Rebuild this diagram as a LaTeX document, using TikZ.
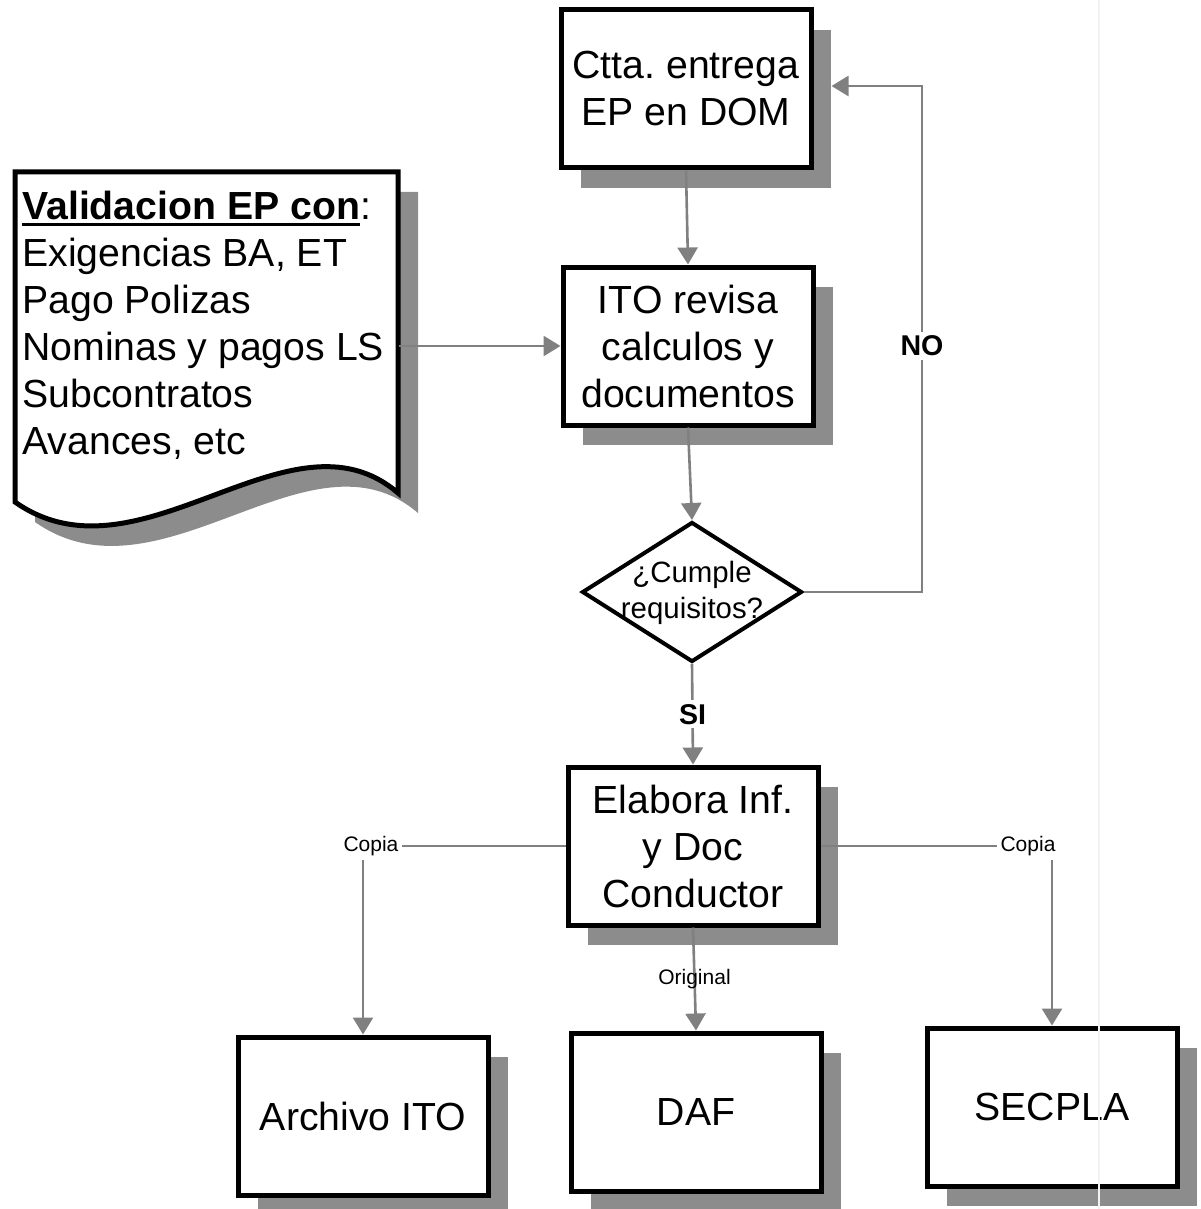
\documentclass[tikz,border=0pt]{standalone}
\usepackage{fontspec}
\setmainfont{Liberation Sans}
\usetikzlibrary{shapes.geometric,arrows.meta,shadows}
\frenchspacing

\definecolor{linegray}{RGB}{128,128,128}
\definecolor{shadegray}{RGB}{140,140,140}
\definecolor{seamgray}{RGB}{242,242,242}

% heavy underline for the heading of the document shape
\newsavebox\heavyulbox
\newcommand{\heavyul}[1]{\sbox\heavyulbox{#1}%
  \rlap{\rule[-3pt]{\wd\heavyulbox}{1.5pt}}\usebox\heavyulbox}

\begin{document}
\begin{tikzpicture}[x=0.5pt,y=-0.5pt,
  boxfont/.style={font=\fontsize{19.6pt}{23.5pt}\selectfont},
  procbox/.style={boxfont, draw=black, line width=2.5pt, fill=white,
    minimum width=125pt, minimum height=79pt, inner sep=0pt, align=center,
    general shadow={fill=shadegray, shadow xshift=10pt, shadow yshift=-10pt}},
  decision/.style={diamond, draw=black, line width=2pt, fill=white,
    minimum width=110pt, minimum height=70pt, inner sep=0pt},
  flow/.style={draw=linegray, line width=1.3pt,
    -{Triangle[length=8.5pt,width=10pt]}},
  answer/.style={font=\fontsize{14.3pt}{17pt}\selectfont\bfseries,
    fill=white, inner sep=2pt},
  copylbl/.style={font=\fontsize{10.5pt}{12pt}\selectfont,
    fill=white, inner sep=2pt},
  origlbl/.style={font=\fontsize{10.5pt}{12pt}\selectfont, inner sep=1pt}
]
\useasboundingbox (0,0) rectangle (1200,1209);

% process boxes
\node[procbox] (ctta)    at (686,89)   {Ctta. entrega\\EP en DOM};
\node[procbox] (ito)     at (688,346)  {ITO revisa\\calculos y\\documentos};
\node[procbox] (elab)    at (693,846)  {Elabora Inf.\\y Doc\\Conductor};
\node[procbox] (archivo) at (363,1116) {Archivo ITO};
\node[procbox] (daf)     at (696,1112) {DAF};
\node[procbox] (secpla)  at (1052,1107){SECPLA};

% decision
\node[decision] (dia) at (692,592) {};
\node[font=\fontsize{14.7pt}{18pt}\selectfont, align=center, inner sep=0pt]
  (diatext) at (692,593) {¿Cumple\\requisitos?};

% document with wavy bottom edge
\node[minimum width=191.5pt, minimum height=160.5pt, anchor=north west,
  inner sep=0pt] (doc) at (15,172) {};
\fill[shadegray, shift={(20,20)}]
  (15,172) -- (398,172) -- (398,493)
  .. controls (290,400) and (140,590) .. (15,502) -- cycle;
\draw[line width=2.5pt, fill=white, line join=miter]
  (15,172) -- (398,172) -- (398,493)
  .. controls (290,400) and (140,590) .. (15,502) -- cycle;
\node[boxfont, anchor=north west, inner sep=0pt, align=left] (doctext)
  at (22,191)
  {\heavyul{\textbf{Validacion EP con}}:\\Exigencias BA, ET\\Pago Polizas\\
   Nominas y pagos LS\\Subcontratos\\Avances, etc};

% connectors
\draw[flow] (ctta.south) -- (ito.north);
\draw[flow] (doc.east |- ito.west) -- (ito.west);
\draw[flow] (ito.south) -- (dia.north);
\draw[flow] (dia.south) -- node[answer] (si) {SI} (elab.north);

\coordinate (noturn) at (922,592);
\draw[flow] (dia.east) -- (noturn) |- ([xshift=9pt,yshift=1.5pt]ctta.east);
\node[answer] (no) at (noturn |- ito) {NO};

\draw[flow] (elab.west) -| node[copylbl, pos=0.5, xshift=4pt] (copyl) {Copia}
  (archivo.north);
\draw[flow] (elab.east) -| node[copylbl, pos=0.5, xshift=-12pt] (copyr) {Copia}
  (secpla.north);
\draw[flow] (elab.south) -- node[origlbl] (orig) {Original} (daf.north);

% faint page seam
\draw[seamgray, line width=0.8pt] (1099,0) -- (1099,1209);
\end{tikzpicture}
\end{document}
